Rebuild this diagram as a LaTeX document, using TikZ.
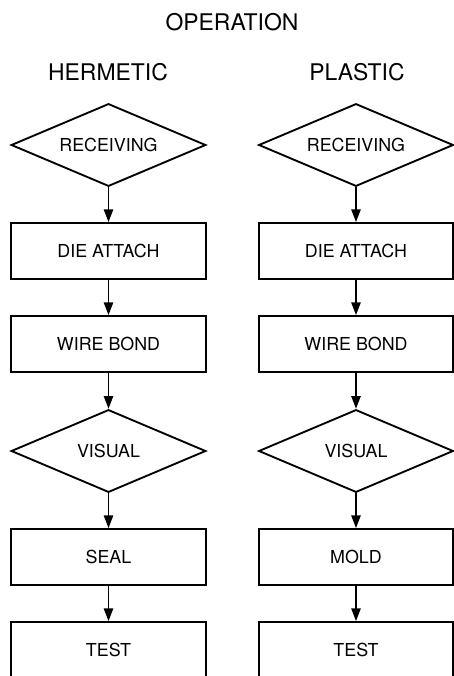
\documentclass[tikz,border=0pt]{standalone}
\usepackage{fontspec}
\setmainfont{TeX Gyre Heros}
\usetikzlibrary{arrows.meta, shapes.geometric}

\tikzset{
  stepbox/.style={draw, line width=1.4pt, minimum width=146pt, minimum height=42pt,
    inner sep=0pt, font=\fontsize{13.4}{15}\selectfont},
  checkbox/.style={draw, diamond, shape aspect=2.36, line width=1.4pt, minimum width=146pt,
    minimum height=62pt, inner sep=0pt, font=\fontsize{13.4}{15}\selectfont},
  heading/.style={font=\fontsize{17.2}{20}\selectfont},
  flow/.style={line width=1.1pt, -{Triangle[width=7pt,length=9.5pt]}}
}

\begin{document}
\begin{tikzpicture}[x=0.75pt, y=-0.75pt]

% Page frame (pixel units, origin top left)
\clip (0,0) rectangle (454,676);

% Headings
\node[heading] (title) at (232,22) {OPERATION};
\node[heading] (hermetic) at (108,72) {HERMETIC};
\node[heading] (plastic) at (357,72) {PLASTIC};

% Hermetic column
\node[checkbox] (hrecv) at (108.5,145) {RECEIVING};
\node[stepbox] (hdie) at (108.5,251) {DIE ATTACH};
\node[stepbox] (hwire) at (108.5,344) {WIRE BOND};
\node[checkbox] (hvis) at (108.5,451) {VISUAL};
\node[stepbox] (hseal) at (108.5,557) {SEAL};
\node[stepbox] (htest) at (108.5,650) {TEST};

% Plastic column
\node[checkbox] (precv) at (356,145) {RECEIVING};
\node[stepbox] (pdie) at (356,251) {DIE ATTACH};
\node[stepbox] (pwire) at (356,344) {WIRE BOND};
\node[checkbox] (pvis) at (356,451) {VISUAL};
\node[stepbox] (pmold) at (356,557) {MOLD};
\node[stepbox] (ptest) at (356,650) {TEST};

% Flow arrows
\draw[flow] (hrecv.south) -- (hdie.north);
\draw[flow] (hdie.south) -- (hwire.north);
\draw[flow] (hwire.south) -- (hvis.north);
\draw[flow] (hvis.south) -- (hseal.north);
\draw[flow] (hseal.south) -- (htest.north);

\draw[flow] (precv.south) -- (pdie.north);
\draw[flow] (pdie.south) -- (pwire.north);
\draw[flow] (pwire.south) -- (pvis.north);
\draw[flow] (pvis.south) -- (pmold.north);
\draw[flow] (pmold.south) -- (ptest.north);

\end{tikzpicture}
\end{document}
